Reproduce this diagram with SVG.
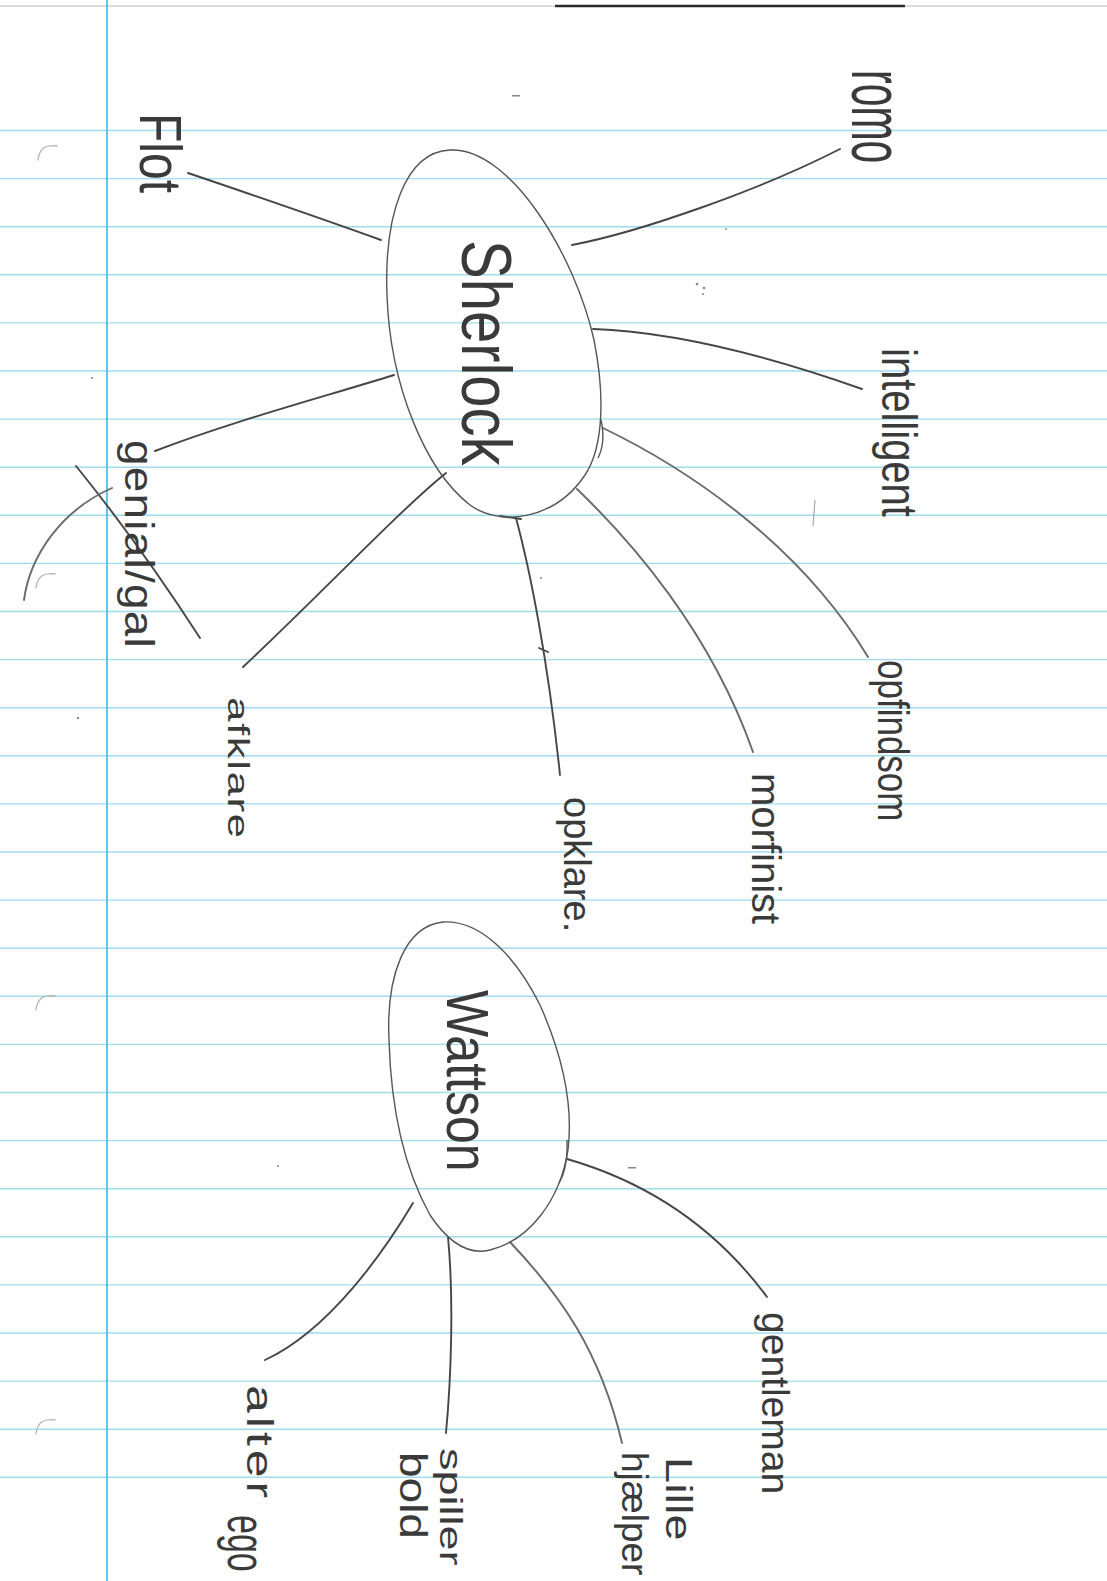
<svg xmlns="http://www.w3.org/2000/svg" width="1107" height="1581" viewBox="0 0 1107 1581">
<defs>
<style>
.rule{stroke:#9fdcef;stroke-width:1.4;}
.margin{stroke:#3db7e6;stroke-width:1.6;}
.pen{fill:none;stroke:#464646;stroke-width:1.9;stroke-linecap:round;}
.pen2{fill:none;stroke:#6a6a6a;stroke-width:1.9;stroke-linecap:round;}
.oval{fill:none;stroke:#555;stroke-width:1.4;stroke-linejoin:round;}
.hole{fill:none;stroke:#b4b4b4;stroke-width:1.3;stroke-linecap:round;}
.lbl{font-family:"Liberation Sans",Arial,sans-serif;fill:#3a3a3a;}
.speck{fill:#888;}
</style>
</defs>
<rect width="1107" height="1581" fill="#ffffff"/>
<g id="paper">
<line x1="0" y1="6" x2="1107" y2="6" stroke="#dcdcdc" stroke-width="2"/>
<line x1="555" y1="6" x2="905" y2="6" stroke="#2a2a2a" stroke-width="2.5"/>
<g class="rule">
<line x1="0" y1="130.5" x2="1107" y2="130.5"/>
<line x1="0" y1="178.6" x2="1107" y2="178.6"/>
<line x1="0" y1="226.7" x2="1107" y2="226.7"/>
<line x1="0" y1="274.8" x2="1107" y2="274.8"/>
<line x1="0" y1="322.9" x2="1107" y2="322.9"/>
<line x1="0" y1="371" x2="1107" y2="371"/>
<line x1="0" y1="419.1" x2="1107" y2="419.1"/>
<line x1="0" y1="467.2" x2="1107" y2="467.2"/>
<line x1="0" y1="515.3" x2="1107" y2="515.3"/>
<line x1="0" y1="563.4" x2="1107" y2="563.4"/>
<line x1="0" y1="611.5" x2="1107" y2="611.5"/>
<line x1="0" y1="659.6" x2="1107" y2="659.6"/>
<line x1="0" y1="707.7" x2="1107" y2="707.7"/>
<line x1="0" y1="755.8" x2="1107" y2="755.8"/>
<line x1="0" y1="803.9" x2="1107" y2="803.9"/>
<line x1="0" y1="852" x2="1107" y2="852"/>
<line x1="0" y1="900.1" x2="1107" y2="900.1"/>
<line x1="0" y1="948.2" x2="1107" y2="948.2"/>
<line x1="0" y1="996.3" x2="1107" y2="996.3"/>
<line x1="0" y1="1044.4" x2="1107" y2="1044.4"/>
<line x1="0" y1="1092.5" x2="1107" y2="1092.5"/>
<line x1="0" y1="1140.6" x2="1107" y2="1140.6"/>
<line x1="0" y1="1188.7" x2="1107" y2="1188.7"/>
<line x1="0" y1="1236.8" x2="1107" y2="1236.8"/>
<line x1="0" y1="1284.9" x2="1107" y2="1284.9"/>
<line x1="0" y1="1333" x2="1107" y2="1333"/>
<line x1="0" y1="1381.1" x2="1107" y2="1381.1"/>
<line x1="0" y1="1429.2" x2="1107" y2="1429.2"/>
<line x1="0" y1="1477.3" x2="1107" y2="1477.3"/>
</g>
<line class="margin" x1="107" y1="0" x2="107" y2="1581"/>
<path class="hole" d="M 38 160 Q 40 143 57 146"/>
<path class="hole" d="M 36 588 Q 38 571 55 574"/>
<path class="hole" d="M 36 1010 Q 38 993 55 996"/>
<path class="hole" d="M 36 1434 Q 38 1417 55 1420"/>
<rect class="speck" x="512" y="95" width="8" height="1.5"/>
<circle class="speck" cx="697" cy="284" r="1.3"/>
<circle class="speck" cx="704" cy="288" r="1.3"/>
<circle class="speck" cx="703" cy="294" r="1"/>
<circle class="speck" cx="726" cy="229" r="1"/>
<path d="M 815 500 L 813 526" stroke="#aaa" stroke-width="1.2"/>
<rect class="speck" x="628" y="1167" width="8" height="1.5"/>
<circle class="speck" cx="92" cy="378" r="1"/>
<circle class="speck" cx="78" cy="718" r="1.2"/>
<circle class="speck" cx="541" cy="578" r="1"/>
<circle class="speck" cx="278" cy="1166" r="1"/>
</g>
<g id="connectors">
<path class="pen" d="M 381 240 C 320 218, 250 194, 188 173"/>
<path class="pen" d="M 572 245 C 640 232, 760 190, 840 149"/>
<path class="pen" d="M 593 329 C 680 332, 780 360, 862 389"/>
<path class="pen2" d="M 603 428 C 690 470, 800 545, 868 657"/>
<path class="pen2" d="M 577 489 C 630 540, 710 630, 753 752"/>
<path class="pen" d="M 500 516 L 521 519"/>
<path class="pen" d="M 516 518 C 530 570, 548 660, 560 775"/>
<path class="pen" d="M 539 648 L 548 652"/>
<path class="pen" d="M 446 473 C 400 510, 320 595, 243 667"/>
<path class="pen" d="M 394 375 C 320 398, 230 422, 155 451"/>
<path class="pen" d="M 76 466 Q 140 545 200 638"/>
<path class="pen2" d="M 24 600 C 30 555, 62 510, 112 488"/>
<path class="pen" d="M 567 1159 C 640 1180, 710 1220, 767 1297"/>
<path class="pen2" d="M 510 1242 C 560 1295, 600 1350, 622 1443"/>
<path class="pen" d="M 448 1237 C 454 1300, 451 1380, 446 1433"/>
<path class="pen" d="M 413 1203 C 385 1250, 330 1330, 265 1360"/>
</g>
<g id="sherlock">
<path class="oval" d="M 450 150 C 405 152, 384 215, 387 295 C 390 385, 425 470, 470 505 C 500 527, 555 520, 585 475 C 605 445, 604 390, 594 340 C 575 255, 510 147, 450 150 Z"/>
<path class="oval" d="M 601 420 Q 606 442 598 458"/>
<text class="lbl" font-size="58" transform="translate(462,240) rotate(90) scale(1,1.2)">Sherlock</text>
</g>
<g id="watson">
<path class="oval" d="M 443 922 C 405 926, 386 975, 389 1040 C 391 1110, 405 1170, 430 1215 C 450 1245, 470 1255, 490 1250 C 530 1240, 560 1200, 568 1150 C 574 1100, 560 1050, 540 1005 C 515 955, 480 920, 443 922 Z"/>
<path class="oval" d="M 567 1140 Q 568 1168 559 1183"/>
<text class="lbl" font-size="50" transform="translate(447,990) rotate(90) scale(1,1.2)">Wattson</text>
</g>
<g id="flot"><text class="lbl" font-size="48" transform="translate(140,113) rotate(90) scale(1,1.25)">Flot</text></g>
<g id="romo"><text class="lbl" font-size="41" transform="translate(852,70) rotate(90) scale(1,1.8)">romo</text></g>
<g id="intelligent"><text class="lbl" font-size="40" transform="translate(882,348) rotate(90) scale(1,1.25)">intelligent</text></g>
<g id="opfindsom"><text class="lbl" font-size="35" transform="translate(878,660) rotate(90) scale(1,1.25)">opfindsom</text></g>
<g id="morfinist"><text class="lbl" font-size="40" transform="translate(752,773) rotate(90)">morfinist</text></g>
<g id="opklare"><text class="lbl" font-size="38" transform="translate(564,797) rotate(90)">opklare.</text></g>
<g id="afklare"><text class="lbl" font-size="44" letter-spacing="1.5" transform="translate(228,697) rotate(90) scale(1,0.65)">afklare</text></g>
<g id="genial"><text class="lbl" font-size="46" letter-spacing="1.2" transform="translate(125,440) rotate(90) scale(1,0.9)">genial/gal</text></g>
<g id="gentleman"><text class="lbl" font-size="39" transform="translate(762,1312) rotate(90)">gentleman</text></g>
<g id="lille-hjaelper">
<text class="lbl" font-size="47" transform="translate(666,1457) rotate(90) scale(1,0.8)">Lille</text>
<text class="lbl" font-size="37" transform="translate(622,1452) rotate(90)">hjælper</text>
</g>
<g id="spiller-bold">
<text class="lbl" font-size="45" transform="translate(440,1448) rotate(90) scale(1,0.7)">spiller</text>
<text class="lbl" font-size="46" transform="translate(400,1452) rotate(90) scale(1,0.85)">bold</text>
</g>
<g id="alter-ego">
<text class="lbl" font-size="50" letter-spacing="4" transform="translate(247,1385) rotate(90) scale(1,0.75)">alter</text>
<text class="lbl" font-size="34" transform="translate(228,1515) rotate(90) scale(1,1.5)">ego</text>
</g>
</svg>
